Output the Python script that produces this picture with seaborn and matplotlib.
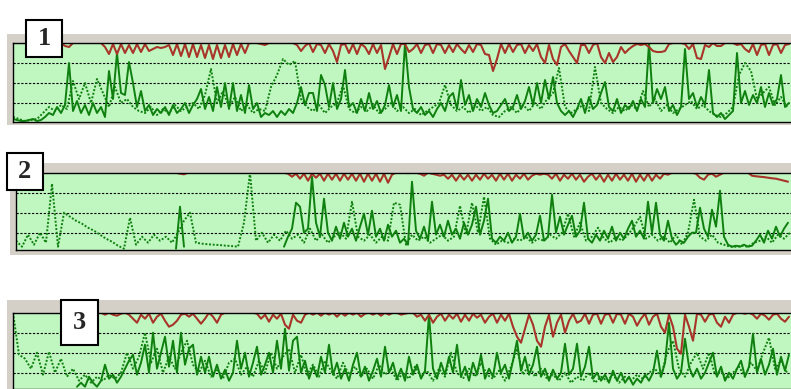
import numpy as np
import pandas as pd
import matplotlib
matplotlib.use("Agg")
import matplotlib.pyplot as plt
from matplotlib.patches import Rectangle
import seaborn as sns

# ---------------- data ----------------
PANEL_LABELS = ["1", "2", "3"]

P1_RED = [4.0,4.0,4.0,4.0,4.0,4.0,4.0,4.0,4.0,4.0,
          4.0,4.0,4.0,3.85,3.8,4.0,4.0,4.0,4.0,4.0,
          4.0,4.0,4.0,3.8,3.45,3.95,3.45,3.95,3.5,3.9,
          3.5,3.95,3.55,3.95,3.6,3.7,3.8,3.75,3.8,3.9,
          3.4,3.95,3.35,3.95,3.3,3.95,3.3,3.9,3.25,3.9,
          3.2,3.9,3.25,3.9,3.3,3.95,3.4,3.95,3.5,4.0,
          4.0,4.0,3.95,3.9,4.0,4.0,4.0,4.0,4.0,4.0,
          4.0,3.9,3.6,3.85,4.0,3.55,3.95,3.9,3.5,3.95,
          3.6,3.05,3.9,3.95,3.5,3.95,3.45,3.95,3.8,3.45,
          3.95,3.5,3.9,2.7,3.3,3.95,3.45,3.95,3.95,3.55,
          3.7,3.95,3.5,3.9,3.95,3.5,3.95,3.9,3.5,3.9,
          3.55,3.95,3.7,3.5,3.9,3.55,3.95,3.9,3.45,3.4,
          2.6,3.2,3.95,3.5,3.95,3.55,3.9,3.95,3.5,3.9,
          3.6,3.95,3.3,3.0,3.9,3.2,2.9,3.8,3.95,3.6,
          3.3,3.0,3.9,3.9,3.5,3.9,4.0,3.3,3.0,3.5,
          3.05,3.3,3.8,3.5,3.7,3.85,3.95,3.9,3.95,3.8,
          3.6,3.55,3.55,3.6,3.95,4.0,4.0,4.0,3.95,3.7,
          3.95,3.25,3.2,3.9,3.8,4.0,3.85,3.85,4.0,4.0,
          4.0,3.9,3.95,3.7,3.55,3.95,3.4,3.9,3.95,3.4,
          3.9,3.95,3.5,3.9,3.95]

P1_SOLID = [0.2,0.15,0.1,0.1,0.15,0.2,0.1,0.15,0.3,0.5,
            0.4,0.8,0.5,0.9,3.0,0.6,1.1,0.5,0.9,0.4,
            1.0,0.5,0.8,0.3,2.6,1.2,3.5,1.5,1.4,3.05,
            2.0,0.8,1.6,0.6,0.9,0.4,0.7,0.5,0.8,0.4,
            0.9,0.5,0.7,1.0,0.5,0.9,1.2,1.7,0.7,1.3,
            0.6,1.8,0.8,2.0,0.7,2.0,0.6,1.4,0.5,1.9,
            0.7,1.0,0.3,0.5,0.4,0.6,0.3,0.6,0.4,0.7,
            0.5,1.0,1.8,0.9,1.5,1.5,0.6,2.4,1.9,0.8,
            2.0,0.7,1.2,2.65,0.8,1.0,0.5,1.2,0.6,1.5,
            0.7,1.1,0.5,0.9,1.9,0.8,1.4,0.6,4.0,1.8,
            0.7,0.5,0.8,0.4,0.6,0.3,0.7,1.0,0.6,1.3,
            1.5,0.7,2.15,0.9,1.4,0.6,1.2,0.8,1.5,0.9,
            0.5,0.6,0.9,1.2,0.6,0.8,1.4,0.7,1.1,1.8,
            0.9,2.0,1.0,2.15,1.2,2.3,1.0,0.6,0.4,0.6,
            0.3,0.7,1.2,0.5,1.3,0.7,0.9,1.5,2.05,0.8,
            0.6,1.2,0.5,0.9,0.7,1.1,0.6,1.2,0.8,4.0,
            1.0,1.7,1.2,1.8,0.6,0.9,0.4,0.8,3.7,1.2,
            1.5,0.8,1.3,0.9,2.65,0.5,0.3,0.5,0.2,0.4,
            0.6,3.5,1.0,1.6,0.9,1.4,1.0,1.8,0.8,1.5,
            0.9,1.2,2.4,0.8,1.0]

P1_DOT = [0.3,0.2,0.1,0.15,0.2,0.5,0.8,0.6,0.9,0.7,
          2.1,1.2,2.0,1.0,2.2,1.5,0.8,1.8,1.0,1.2,
          0.8,0.6,0.5,0.8,0.4,0.7,0.5,0.9,0.6,0.8,
          1.0,0.7,1.4,2.7,1.0,1.6,0.8,1.3,0.6,0.9,
          0.5,0.7,0.6,1.8,2.4,3.2,2.9,3.1,1.2,0.8,
          0.6,0.9,0.5,0.8,1.0,1.9,0.7,0.5,0.8,0.6,
          0.9,0.5,0.7,1.0,0.6,0.8,0.5,0.7,0.4,0.6,
          0.8,1.0,1.9,0.9,0.6,0.8,0.5,0.9,0.6,0.8,
          0.4,0.3,0.6,0.8,0.5,0.9,0.6,1.0,0.7,1.2,
          1.5,2.75,0.8,0.5,0.7,0.9,0.6,2.8,1.0,0.7,
          0.5,0.8,0.6,0.9,0.7,1.6,0.8,1.2,0.6,0.9,
          0.5,0.7,0.9,1.1,0.7,0.9,0.6,0.4,0.3,0.5,
          0.8,2.4,3.0,2.6,1.2,1.5,1.8,0.9,1.3,0.8]

P2_RED = [4.0,4.0,4.0,4.0,4.0,4.0,4.0,4.0,4.0,4.0,
          4.0,4.0,4.0,4.0,4.0,4.0,4.0,4.0,4.0,4.0,
          4.0,4.0,4.0,4.0,4.0,4.0,4.0,4.0,4.0,4.0,
          4.0,4.0,4.0,4.0,4.0,4.0,4.0,4.0,4.0,4.0,
          4.0,3.95,3.92,4.0,4.0,4.0,4.0,4.0,4.0,4.0,
          4.0,4.0,4.0,4.0,4.0,4.0,4.0,4.0,4.0,4.0,
          4.0,4.0,4.0,4.0,4.0,4.0,4.0,4.0,3.95,3.8,
          3.95,3.7,3.95,3.6,3.95,3.75,3.95,3.6,3.95,3.65,
          3.95,3.6,3.95,3.65,3.95,3.6,3.95,3.55,3.95,3.6,
          3.95,3.55,3.95,3.5,3.9,4.0,4.0,4.0,3.98,4.0,
          4.0,3.95,3.85,4.0,3.95,3.9,3.85,3.9,3.7,3.9,
          3.6,3.9,3.65,3.9,3.6,3.9,3.65,3.95,3.7,3.9,
          3.6,3.95,3.65,3.95,3.6,3.9,3.7,3.95,3.65,3.85,
          3.95,3.9,3.95,3.9,3.7,3.95,3.6,3.9,3.7,3.95,
          3.65,3.9,3.55,3.8,3.95,3.65,3.9,3.55,3.9,3.6,
          3.95,3.65,3.9,3.6,3.95,3.55,3.9,3.6,3.95,3.6,
          3.9,3.7,3.95,3.9,4.0,4.0,4.0,4.0,4.0,4.0,
          3.95,3.75,3.65,3.9,3.95,3.8,3.9,4.0,4.0,4.0,
          4.0,4.0,4.0,4.0,3.85,3.82,3.8,3.78,3.75,3.72,
          3.7,3.65,3.6,3.55]

nan = np.nan
P2_SOLID = [nan]*40 + [0.2,2.3,0.3] + [nan]*24 + [0.3,0.8,1.2,
            2.5,2.3,1.0,1.2,3.8,1.5,0.8,2.7,1.0,0.6,
            1.3,0.7,1.5,0.8,1.2,0.6,1.3,1.95,0.9,2.1,
            0.8,1.2,0.6,1.4,0.8,1.1,0.5,0.7,0.4,3.55,
            1.1,0.7,1.3,0.6,2.55,0.9,1.4,0.8,1.6,0.9,
            1.2,0.7,1.5,0.9,1.4,2.3,0.9,1.6,2.7,0.7,
            0.5,0.8,0.6,1.0,0.5,0.8,1.95,0.7,1.0,0.6,
            0.9,1.85,0.6,0.8,2.9,1.0,1.8,0.9,1.4,1.85,
            0.8,1.1,2.5,0.7,0.5,0.9,0.6,1.1,0.7,1.3,
            0.6,1.0,0.7,1.2,1.6,0.8,1.1,0.7,2.55,1.0,
            2.5,0.9,0.6,1.6,0.7,0.4,0.6,0.5,0.8,1.0,
            1.0,2.25,1.2,0.8,2.15,1.3,3.1,0.8,0.4,0.3,
            0.35,0.3,0.4,0.3,0.35,0.6,0.9,0.5,1.1,0.7,
            1.3,0.8,1.2,1.5]

P2_DOT = [0.6,0.3,0.9,0.4,1.0,0.5,3.45,0.3,2.0,1.8,
          1.6,1.45,1.25,1.1,0.9,0.7,0.55,0.35,0.2,1.75,
          0.4,0.8,0.5,0.9,0.6,0.8,0.5,1.0,1.6,2.0,
          0.5,0.45,0.42,0.4,0.38,0.35,0.33,0.3,1.5,4.0,
          0.6,1.0,0.5,0.9,0.6,1.1,0.7,0.9,0.5,1.2,
          0.6,0.9,0.5,0.8,1.0,0.7,2.55,0.8,0.6,0.9,
          0.5,0.8,0.6,2.5,2.4,0.4,0.9,0.6,0.8,0.5,
          0.7,0.9,0.6,0.8,2.35,0.9,2.5,1.0,2.8,0.7,
          0.4,0.6,0.5,0.7,0.6,0.8,0.5,0.7,0.6,0.9,
          0.7,1.0,1.95,0.8,1.5,0.6,0.8,1.25,0.7,0.5,
          0.8,0.6,0.9,1.3,1.8,0.7,0.9,0.6,0.8,0.5,
          0.9,0.4,1.0,2.65,0.8,0.6,0.9,0.5,0.4,0.3,
          0.3,0.35,0.3,0.5,0.6,0.8,0.5,0.9,0.7,1.0]

P3_RED = [4.0,4.0,4.0,4.0,4.0,4.0,4.0,4.0,4.0,4.0,
          4.0,4.0,4.0,4.0,4.0,4.0,4.0,4.0,4.0,4.0,
          4.0,4.0,4.0,3.9,4.0,3.9,3.85,3.95,4.0,3.9,
          3.7,3.5,3.9,3.7,3.95,3.5,3.8,3.95,3.6,3.3,
          3.4,3.6,3.9,3.95,3.8,3.95,3.7,3.45,3.7,4.0,
          3.8,3.5,3.9,4.0,4.0,4.0,4.0,4.0,4.0,4.0,
          4.0,3.95,3.7,3.9,3.55,3.9,3.7,3.95,3.4,3.2,
          3.9,3.6,3.5,3.9,4.0,3.9,4.0,3.85,4.0,3.9,
          4.0,3.8,4.0,3.85,4.0,3.9,4.0,3.8,3.95,4.0,
          3.9,4.0,3.85,4.0,3.9,4.0,4.0,3.9,3.95,4.0,
          4.0,3.8,3.9,3.6,3.9,3.5,3.8,3.95,3.6,3.9,
          3.7,3.95,3.55,3.9,3.6,3.95,3.75,3.9,3.5,3.8,
          3.95,3.5,3.9,3.6,3.95,3.3,2.8,2.5,3.2,3.9,
          3.4,2.6,2.3,3.3,3.9,2.8,3.5,3.9,3.0,3.6,
          3.95,3.5,3.6,3.95,3.45,3.9,3.95,3.45,3.9,3.95,
          3.5,3.95,3.9,3.45,3.95,3.8,3.35,3.7,3.95,3.4,
          3.8,3.95,3.3,3.0,3.9,3.3,2.2,1.95,3.9,3.3,
          2.6,3.95,3.9,3.55,3.9,3.95,3.5,3.3,3.8,3.5,
          3.9,4.0,4.0,3.95,4.0,3.9,3.7,3.95,3.85,3.65,
          3.9,3.95,3.7,3.55,3.8]

P3_SOLID = [nan]*16 + [0.3,0.5,0.3,0.8,
            0.5,0.3,0.6,1.4,0.7,0.9,0.5,0.8,1.2,1.6,
            1.9,0.9,1.5,2.4,1.0,3.0,1.2,2.0,2.8,1.3,
            2.6,1.0,3.0,1.4,2.2,2.4,0.9,1.8,1.0,1.8,
            0.8,1.4,0.7,1.15,0.6,1.0,2.6,1.2,2.0,0.8,
            1.5,2.3,0.9,1.4,2.0,1.0,2.6,1.2,3.2,1.1,
            2.6,2.8,1.0,1.6,0.7,1.3,0.8,1.8,1.0,2.4,
            0.9,1.5,0.7,1.2,0.6,1.4,2.0,0.8,1.3,0.6,
            1.1,1.7,0.8,2.3,1.0,1.5,0.7,1.2,0.6,1.8,
            0.9,1.4,0.7,1.1,3.9,1.2,0.7,1.5,0.9,1.8,
            1.0,2.4,0.8,1.3,0.6,1.5,0.9,1.9,0.7,1.2,
            0.8,2.0,1.0,1.4,0.7,1.6,2.6,1.1,1.8,0.9,
            1.4,2.3,0.8,1.2,0.6,1.15,0.7,1.0,2.45,0.9,
            1.2,2.45,0.8,1.3,2.3,0.7,1.0,0.6,0.9,0.5,
            1.1,0.6,1.0,0.5,0.8,0.4,0.7,0.5,0.9,0.6,
            1.0,2.1,0.8,1.5,3.5,1.2,0.7,1.0,2.7,1.3,
            0.8,1.2,0.7,1.0,1.5,2.0,0.8,1.3,0.6,1.0,
            0.7,1.2,1.6,0.8,1.3,2.95,1.0,1.7,0.9,1.4,
            2.2,0.9,1.8,1.1,1.9]

P3_DOT = [4.0,1.9,1.7,1.2,2.0,0.9,2.05,1.0,1.7,0.8,
          1.2,0.6,0.9,0.5,0.8,0.6,0.9,0.7,1.0,2.0,
          1.2,1.8,3.0,1.5,2.2,1.0,1.8,1.2,2.0,2.6,
          1.4,1.0,1.6,0.8,1.2,0.7,1.5,1.7,0.9,1.3,
          0.8,1.6,1.0,2.0,1.2,1.8,2.2,1.0,1.9,0.9,
          1.4,0.8,1.6,1.1,0.7,1.5,0.9,1.3,0.8,1.2,
          0.7,1.4,0.9,1.2,0.6,1.0,0.7,1.3,0.8,1.1,
          0.6,1.2,0.8,2.0,1.0,0.7,1.2,0.8,1.5,0.9,
          0.7,1.1,0.6,1.3,2.2,0.9,1.4,0.8,1.2,0.7,
          0.9,0.6,1.0,0.5,0.8,0.6,1.0,0.5,0.8,0.6,
          0.9,0.5,0.8,0.6,0.9,0.7,1.0,1.2,0.8,2.0,
          2.6,1.2,0.8,1.5,2.0,1.2,2.0,0.9,1.1,0.7,
          1.0,1.3,0.8,1.5,1.1,2.0,2.75,1.2,1.6,1.0]

# sampling steps of the series (time units per sample)
STEP_LINE = 4
STEP_DOT = 6

# ---------------- styling / layout ----------------
W, H = 791, 389
GREEN_BG = "#c0f7c0"
FRAME = "#d4d0c8"
RED = "#a8342a"
GREEN = "#0f800f"

sns.set_style("white")
fig = plt.figure(figsize=(W / 100, H / 100), dpi=100)
fig.patch.set_facecolor("white")


def fig_rect(x0, y0, x1, y1):
    return (x0 / W, 1 - y1 / H, (x1 - x0) / W, (y1 - y0) / H)


def draw(ax, t, v, **kw):
    df = pd.DataFrame({"t": t, "v": v})
    df["g"] = df["v"].isna().cumsum()
    df = df.dropna()
    for _, d in df.groupby("g"):
        if len(d) < 2:
            continue
        sns.lineplot(data=d, x="t", y="v", ax=ax, estimator=None, sort=False,
                     legend=False, solid_joinstyle="round", **kw)


panels = [
    dict(frame=(7, 34, 791, 125), axes=(13, 43, 791, 122), ybot=0.05,
         box=(26, 20, 62, 57), red=P1_RED, solid=P1_SOLID, dot=P1_DOT),
    dict(frame=(10, 163, 791, 255), axes=(16, 172.7, 791, 250), ybot=0.135,
         box=(7, 153, 43, 190), red=P2_RED, solid=P2_SOLID, dot=P2_DOT),
    dict(frame=(7, 300, 791, 389), axes=(13, 312.7, 791, 389), ybot=0.185,
         box=(61, 300, 98, 345), red=P3_RED, solid=P3_SOLID, dot=P3_DOT),
]

for lab, p in zip(PANEL_LABELS, panels):
    fx0, fy0, fx1, fy1 = p["frame"]
    fig.add_artist(Rectangle((fx0 / W, 1 - fy1 / H), (fx1 - fx0) / W, (fy1 - fy0) / H,
                             transform=fig.transFigure, facecolor=FRAME,
                             edgecolor="none", zorder=-5))
    ax = fig.add_axes(fig_rect(*p["axes"]))
    ax.set_facecolor(GREEN_BG)
    ax0, ay0, ax1, ay1 = p["axes"]
    ax.set_xlim(0, ax1 - ax0)
    ax.set_ylim(p["ybot"], 4.0)

    for yv in [1, 2, 3]:
        ax.axhline(yv, color="black", linewidth=0.8, linestyle=(0, (2, 1.5)), zorder=1)

    draw(ax, STEP_DOT * np.arange(len(p["dot"])), p["dot"], color=GREEN,
         linewidth=1.4, linestyle=(0, (1.0, 0.9)))
    draw(ax, STEP_LINE * np.arange(len(p["solid"])), p["solid"], color=GREEN,
         linewidth=1.4)
    draw(ax, STEP_LINE * np.arange(len(p["red"])), p["red"], color=RED,
         linewidth=1.5)

    ax.set_xticks([])
    ax.set_yticks([])
    ax.grid(False)
    ax.set_xlabel("")
    ax.set_ylabel("")
    for side in ["top", "bottom", "left"]:
        ax.spines[side].set_color("black")
        ax.spines[side].set_linewidth(1.0)
    ax.spines["right"].set_visible(False)

    bx0, by0, bx1, by1 = p["box"]
    fig.add_artist(Rectangle((bx0 / W, 1 - by1 / H), (bx1 - bx0) / W, (by1 - by0) / H,
                             transform=fig.transFigure, facecolor="white",
                             edgecolor="black", linewidth=1.5, zorder=10))
    fig.text((bx0 + bx1) / 2 / W, 1 - (by0 + by1) / 2 / H, lab,
             ha="center", va="center", fontsize=19, fontweight="bold",
             family=["Liberation Serif", "DejaVu Serif"], zorder=11)

fig.savefig("out.png", dpi=100)
